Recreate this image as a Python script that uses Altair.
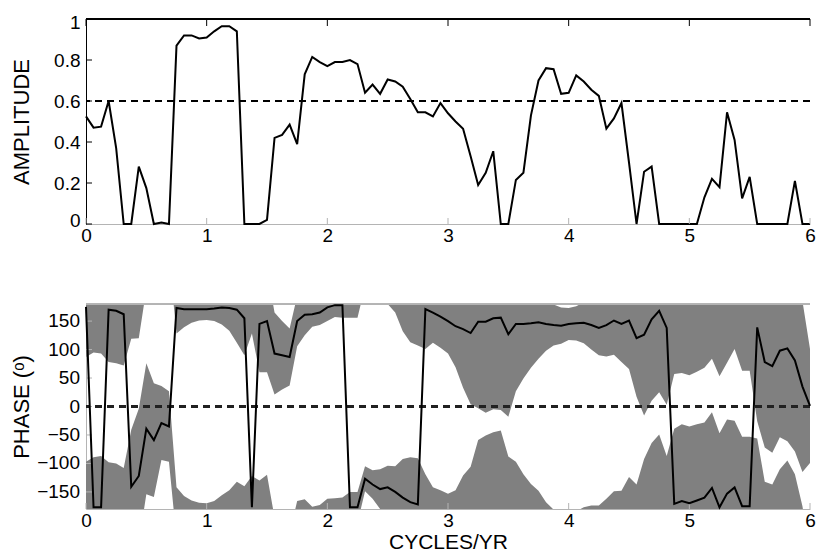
import numpy as np
import pandas as pd
import altair as alt

# spectral estimates are spaced 1/16 cycles/yr apart, 0 .. 6 cycles/yr
freq_step = 1 / 16

amplitude = [
    0.525, 0.47, 0.475, 0.6, 0.37, 0, 0, 0.28, 0.175, 0, 0.007, 0,
    0.87, 0.92, 0.92, 0.905, 0.91, 0.94, 0.965, 0.965, 0.94, 0, 0, 0,
    0.02, 0.42, 0.435, 0.485, 0.39, 0.73, 0.815, 0.79, 0.77, 0.79, 0.79, 0.80,
    0.78, 0.64, 0.68, 0.635, 0.705, 0.695, 0.67, 0.61, 0.545, 0.545, 0.525, 0.59,
    0.54, 0.50, 0.465, 0.33, 0.19, 0.25, 0.355, 0, 0, 0.215, 0.25, 0.53,
    0.70, 0.76, 0.755, 0.635, 0.64, 0.725, 0.695, 0.655, 0.625, 0.465, 0.515, 0.59,
    0.3, 0, 0.255, 0.28, 0, 0, 0, 0, 0, 0, 0.13, 0.22,
    0.18, 0.545, 0.41, 0.125, 0.23, 0, 0, 0, 0, 0, 0.21, 0, 0,
]

phase = [
    175, -177, -177, 170, 168, 162, -141, -122, -39, -59, -29, -35,
    173, 171, 171, 171, 171, 172, 174, 173, 170, 155, -177, 145,
    150, 93, 90, 87, 150, 161, 162, 165, 174, 178, 178, -177,
    -177, -127, -137, -145, -142, -150, -160, -168, -172, 171, 165, 158,
    150, 141, 136, 129, 149, 149, 155, 156, 127, 145, 145, 146,
    148, 145, 143, 142, 145, 146, 147, 143, 138, 143, 151, 145,
    151, 120, 126, 153, 168, 138, -171, -166, -170, -165, -160, -143,
    -177, -153, -142, -175, -175, 139, 78, 71, 98, 102, 81, 35, 1,
]

# half width of the shaded phase band, degrees
phase_err = [
    88, 88, 90, 92, 92, 90, 100, 118, 115, 100, 65, 62,
    45, 32, 24, 20, 19, 22, 30, 40, 58, 65, 55, 85,
    90, 72, 60, 50, 44, 36, 22, 22, 24, 21, 22, 27,
    27, 22, 25, 35, 38, 45, 68, 79, 81, 70, 53, 55,
    57, 72, 103, 125, 152, 160, 160, 162, 145, 118, 96, 78,
    64, 47, 36, 32, 28, 30, 36, 43, 48, 55, 60, 67,
    85, 103, 142, 143, 143, 135, 132, 135, 135, 134, 132, 133,
    130, 130, 117, 122, 122, 165, 150, 152, 152, 163, 160, 150, 100,
]

freq_ticks = [0, 1, 2, 3, 4, 5, 6]
amp_ticks = [0, 0.2, 0.4, 0.6, 0.8, 1]
phase_ticks = [-150, -100, -50, 0, 50, 100, 150]
amp_level = 0.6

W, H = 724, 205
GREY = "#808080"
LIGHT = "#b4b4b4"
FONT = "Liberation Sans"

freq = np.arange(len(amplitude)) * freq_step
spec = pd.DataFrame({"freq": freq, "amp": amplitude, "phase": phase})

# shaded band: phase +/- error, drawn on the unwrapped phase and repeated every 360 deg
unwrapped = np.degrees(np.unwrap(np.radians(phase)))
err = np.array(phase_err, dtype=float)
bands = pd.concat(
    [pd.DataFrame({"freq": freq, "lo": unwrapped - err + s, "hi": unwrapped + err + s, "copy": s})
     for s in (-360, 0, 360)]
)

x_scale = alt.Scale(domain=[0, 6], nice=False, zero=False)
amp_scale = alt.Scale(domain=[0, 1], nice=False)
phase_scale = alt.Scale(domain=[-180, 180], nice=False)


def x_axis(title=None):
    return alt.Axis(title=title, values=freq_ticks, format="d", grid=False, ticks=False,
                    tickSize=0, labelFlush=False, labelOverlap=False, labelPadding=2,
                    domainColor=LIGHT, labelFontSize=19, labelFont=FONT, labelColor="black",
                    titleFontSize=21, titleFont=FONT, titleFontWeight="normal",
                    titleColor="black", titlePadding=1)


amp_x = alt.X("freq:Q", scale=x_scale, axis=x_axis())
amp_y_axis = alt.Axis(title="AMPLITUDE", values=amp_ticks, format="~g", grid=False,
                      ticks=False, tickSize=0, labelOverlap=False, labelFlush=True,
                      labelFlushOffset=6, labelPadding=6, domainColor="black",
                      labelFontSize=19, labelFont=FONT, labelColor="black", titleFontSize=22,
                      titleFont=FONT, titleFontWeight="normal", titleColor="black",
                      titlePadding=3, minExtent=50, maxExtent=50)
ph_x = alt.X("freq:Q", scale=x_scale, axis=x_axis("CYCLES/YR"))
# phase tick labels are drawn as a text layer below, so the axis keeps only line and title
ph_y_axis = alt.Axis(title="PHASE (\u1d52)", values=phase_ticks, labels=False, grid=False,
                     ticks=False, tickSize=0, domainColor=LIGHT, titleFontSize=22,
                     titleFont=FONT, titleFontWeight="normal", titleColor="black",
                     titlePadding=3, minExtent=50, maxExtent=50)

# ---- amplitude panel
amp_line = alt.Chart(spec).mark_line(color="black", strokeWidth=2).encode(
    x=amp_x, y=alt.Y("amp:Q", scale=amp_scale, axis=amp_y_axis),
)
amp_dash = alt.Chart(spec).mark_rule(color="black", strokeWidth=1.3, strokeDash=[7, 5]).encode(
    y=alt.datum(amp_level)
)
tick_df = pd.DataFrame({"t": freq_ticks})
amp_tick_df = pd.DataFrame({"t": amp_ticks})
amp_top = alt.Chart(tick_df).mark_rule(color="black", strokeWidth=1).encode(
    x=alt.value(0), x2=alt.value(W), y=alt.value(0)
)
amp_xticks_top = alt.Chart(tick_df).mark_rule(color="black", strokeWidth=1).encode(
    x=alt.X("t:Q", scale=x_scale, axis=x_axis()), y=alt.value(0), y2=alt.value(7)
)
amp_xticks_bot = alt.Chart(tick_df).mark_rule(color=LIGHT, strokeWidth=1).encode(
    x=alt.X("t:Q", scale=x_scale, axis=x_axis()), y=alt.value(H), y2=alt.value(H - 6)
)
amp_yticks = alt.Chart(amp_tick_df).mark_rule(color="black", strokeWidth=1).encode(
    y=alt.Y("t:Q", scale=amp_scale, axis=amp_y_axis), x=alt.value(0), x2=alt.value(6)
)
amp_panel = alt.layer(
    amp_line, amp_dash, amp_top, amp_xticks_top, amp_xticks_bot, amp_yticks
).properties(width=W, height=H)

# ---- phase panel
band = alt.Chart(bands).mark_area(color=GREY, opacity=1, clip=True).encode(
    x=ph_x,
    y=alt.Y("lo:Q", scale=phase_scale, axis=ph_y_axis),
    y2="hi:Q",
    detail="copy:N",
)
phase_line = alt.Chart(spec).mark_line(color="black", strokeWidth=2).encode(
    x=ph_x, y=alt.Y("phase:Q", scale=phase_scale, axis=ph_y_axis),
)
phase_dash = alt.Chart(spec).mark_rule(color="#222222", strokeWidth=1.3, strokeDash=[7, 5]).encode(
    y=alt.datum(0)
)
ph_tick_df = pd.DataFrame({
    "t": phase_ticks,
    "label": [str(v).replace("-", "\u2212") for v in phase_ticks],
})
ph_top = alt.Chart(tick_df).mark_rule(color=LIGHT, strokeWidth=1).encode(
    x=alt.value(0), x2=alt.value(W), y=alt.value(0)
)
ph_xticks = alt.Chart(tick_df).mark_rule(color=LIGHT, strokeWidth=1).encode(
    x=alt.X("t:Q", scale=x_scale, axis=x_axis("CYCLES/YR")), y=alt.value(H), y2=alt.value(H - 6)
)
ph_yticks = alt.Chart(ph_tick_df).mark_rule(color=LIGHT, strokeWidth=1).encode(
    y=alt.Y("t:Q", scale=phase_scale, axis=ph_y_axis), x=alt.value(0), x2=alt.value(6)
)
ph_ylabels = alt.Chart(ph_tick_df).mark_text(
    align="right", baseline="middle", font=FONT, fontSize=19, color="black"
).encode(
    y=alt.Y("t:Q", scale=phase_scale, axis=ph_y_axis), x=alt.value(-6), text="label:N"
)
phase_panel = alt.layer(
    band, ph_top, ph_xticks, ph_yticks, phase_dash, phase_line, ph_ylabels
).properties(width=W, height=H)

chart = alt.vconcat(amp_panel, phase_panel, spacing=56).properties(
    padding={"left": 2, "top": 5, "right": 0, "bottom": 0}
).configure_view(strokeWidth=0).configure_axis(labelOverlap=False)

chart.save("out.html", embed_options={"renderer": "svg", "actions": False})
